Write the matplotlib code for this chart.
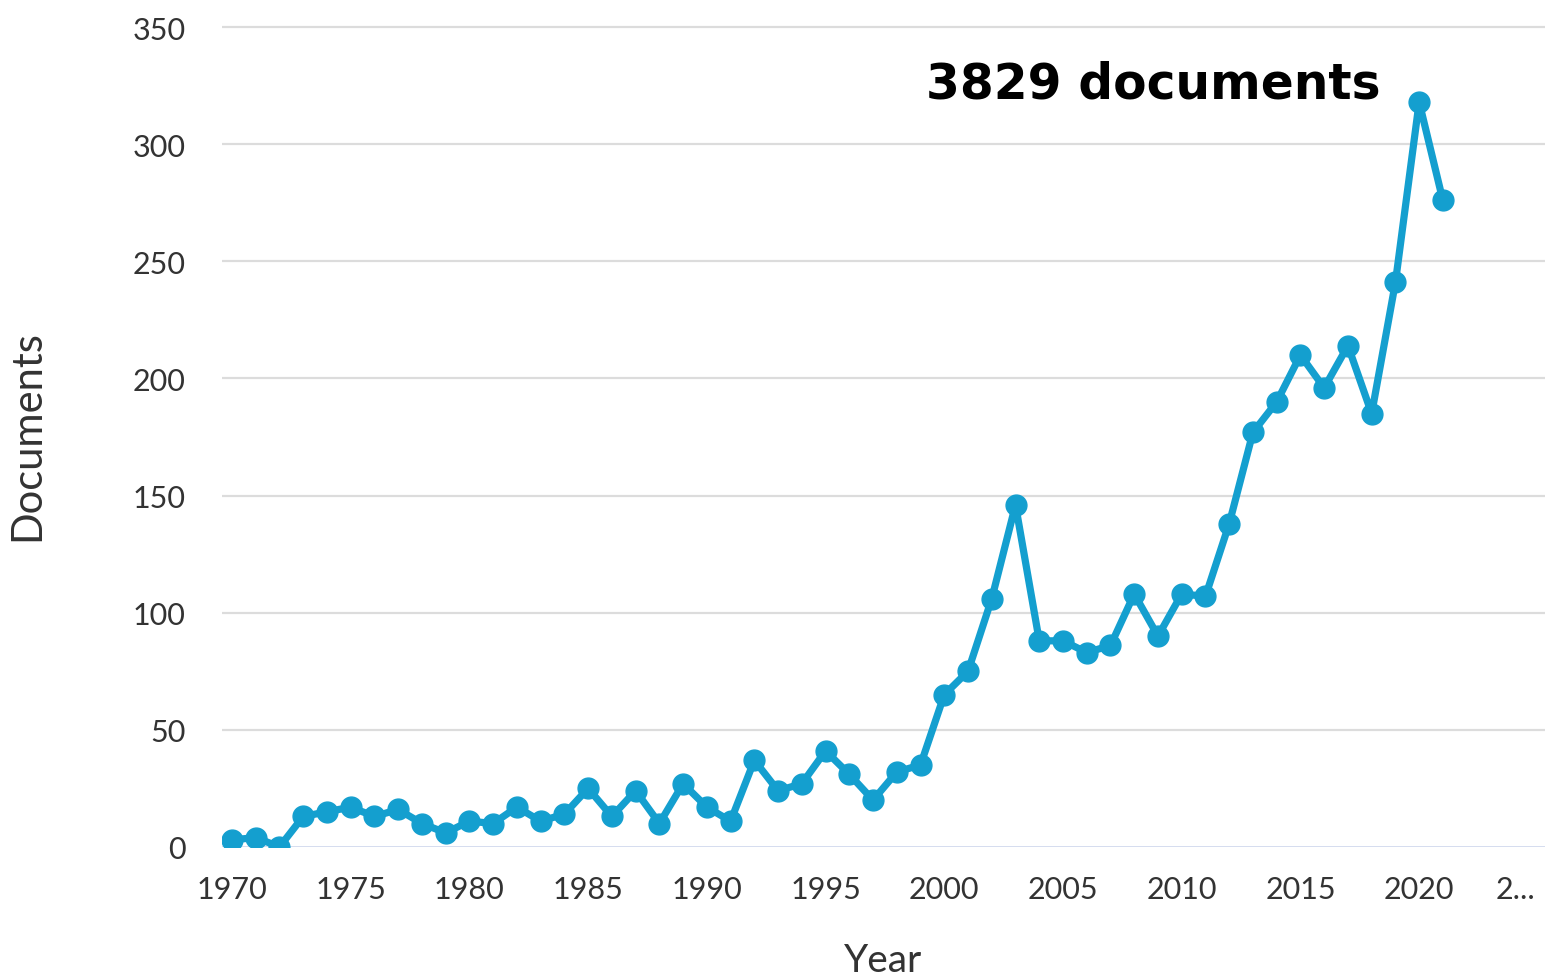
import matplotlib.pyplot as plt
import matplotlib.transforms as mtransforms
import numpy as np

years = list(range(1970, 2022))
docs = [3, 4, 0, 13, 15, 17, 13, 16, 10, 6,
        11, 10, 17, 11, 14, 25, 13, 24, 10, 27,
        17, 11, 37, 24, 27, 41, 31, 20, 32, 35,
        65, 75, 106, 146, 88, 88, 83, 86, 108, 90,
        108, 107, 138, 177, 190, 210, 196, 214, 185, 241,
        318, 276]
xticks = [1970, 1975, 1980, 1985, 1990, 1995, 2000, 2005, 2010, 2015, 2020, 2025]
xticklabels = ['1970', '1975', '1980', '1985', '1990', '1995', '2000', '2005',
               '2010', '2015', '2020', '2...']
yticks = [0, 50, 100, 150, 200, 250, 300, 350]

plt.rcParams['font.family'] = ['Lato', 'DejaVu Sans']

fig = plt.figure(figsize=(15.45, 9.78), dpi=100)
ax = fig.add_axes([0.1437, 0.133, 0.8563, 0.843])

for y in yticks[1:]:
    ax.axhline(y, color='#dcdcdc', lw=1.6, zorder=1)
ax.axhline(0, color='#c9d2ea', lw=1.8, zorder=1)

ax.plot(years, docs, color='#149fcf', lw=5.2, marker='o', markersize=15,
        zorder=3, solid_joinstyle='round')

ax.set_xlim(1969.58, 2025.3)
ax.set_ylim(0, 352)
ax.set_xticks(xticks)
ax.set_xticklabels(xticklabels)
ax.set_yticks(yticks)
ax.tick_params(axis='both', length=0, labelsize=22, labelcolor='#333333')
ax.tick_params(axis='y', pad=26)
ax.tick_params(axis='x', pad=20)
# truncated last label sits a bit left of its tick
last = ax.get_xticklabels()[-1]
last.set_transform(last.get_transform() + mtransforms.ScaledTranslation(-0.22, 0, fig.dpi_scale_trans))
for s in ax.spines.values():
    s.set_visible(False)

ax.set_ylabel('Documents', fontsize=30, color='#333333', labelpad=62)
ax.set_xlabel('Year', fontsize=28, color='#333333', labelpad=28)

ax.text(1999.25, 320, '3829 documents', fontsize=35, fontweight='bold',
        family='DejaVu Sans', color='black', ha='left', va='baseline')

fig.savefig('out.png', dpi=100)
